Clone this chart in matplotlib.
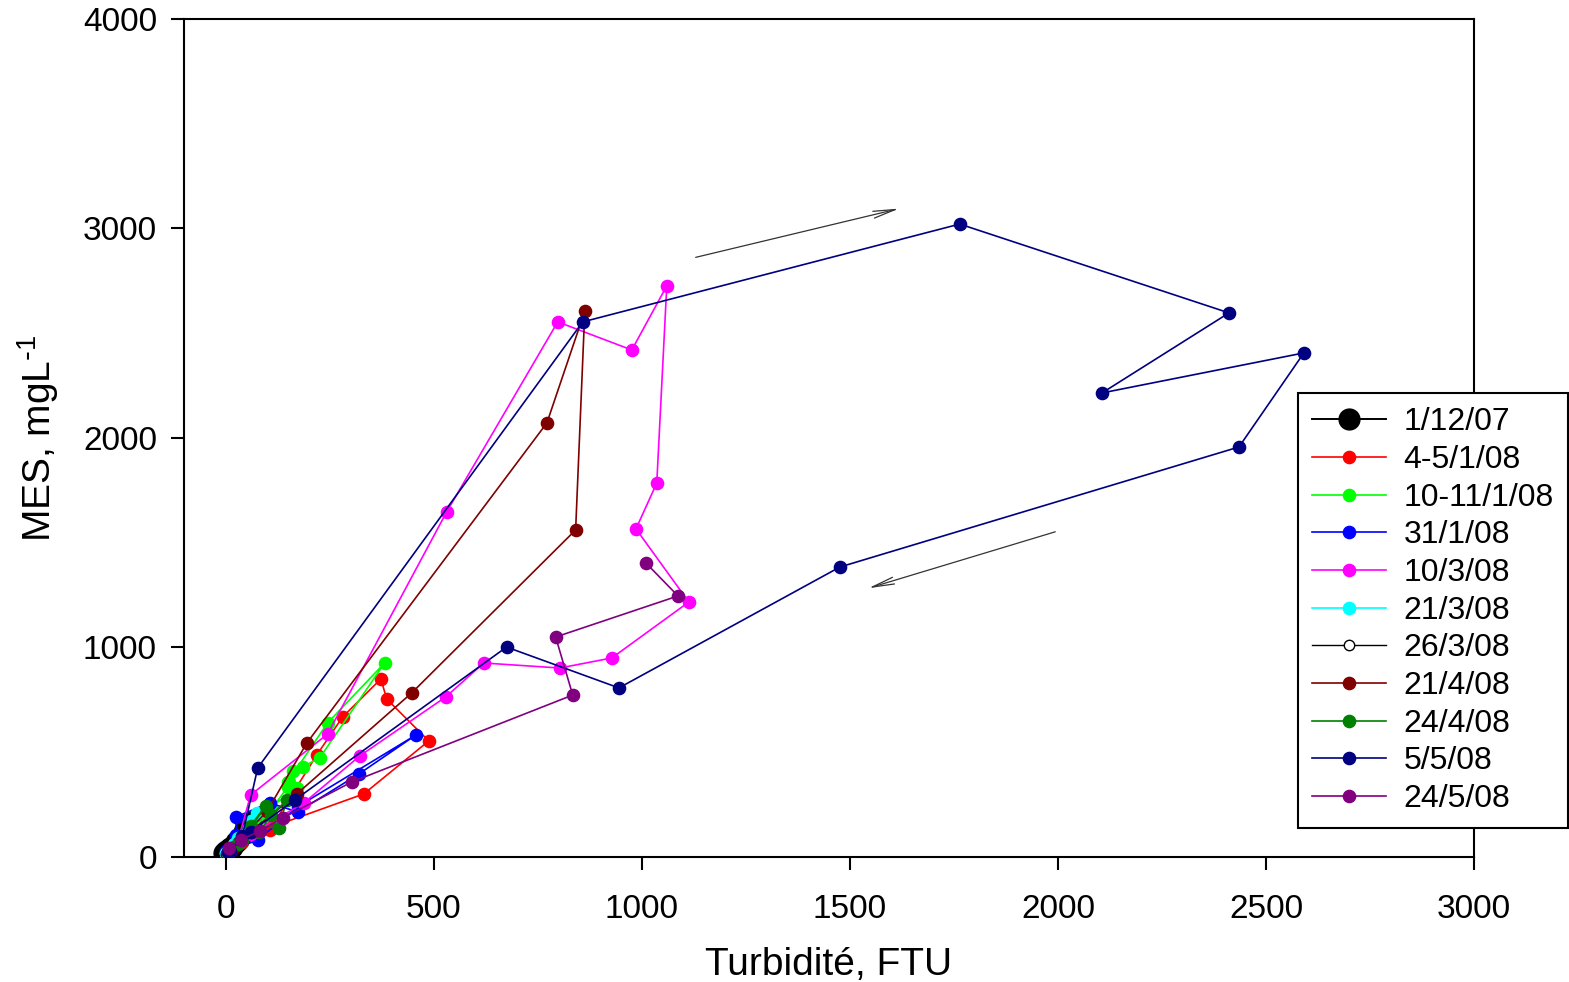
import matplotlib.pyplot as plt

plt.rcParams['font.family'] = ['Liberation Sans', 'DejaVu Sans']

labels = ["1/12/07", "4-5/1/08", "10-11/1/08", "31/1/08", "10/3/08", "21/3/08",
          "26/3/08", "21/4/08", "24/4/08", "5/5/08", "24/5/08"]
colors = ["black", "#ff0000", "#00ff00", "#0000ff", "#ff00ff", "#00ffff",
          "black", "#800000", "#008000", "#000080", "#800080"]

# turbidity (FTU) and MES (mg/L)
x_1207 = [-5, 2, 10, 25, 45, 60, 50, 30, 15, 3]
y_1207 = [20, 30, 45, 70, 120, 165, 140, 80, 50, 25]
x_0401 = [0, 30, 106, 219, 281, 373, 387, 488, 332, 106, 40, 5]
y_0401 = [20, 60, 129, 487, 668, 850, 754, 554, 301, 140, 70, 25]
x_1001 = [2, 50, 100, 149, 149, 245, 382, 226, 185, 161, 171, 110, 40, 5]
y_1001 = [20, 110, 200, 334, 358, 640, 926, 473, 430, 410, 329, 240, 90, 25]
x_3101 = [0, 26, 24, 106, 173, 320, 457, 173, 77, 10]
y_3101 = [30, 105, 191, 258, 215, 396, 582, 240, 81, 30]
x_1003 = [0, 30, 60, 245, 531, 798, 976, 1060, 1036, 986, 1113, 928, 803, 620, 529, 322, 188, 60, 10]
y_1003 = [20, 80, 296, 587, 1647, 2554, 2420, 2726, 1785, 1566, 1217, 950, 902, 926, 764, 482, 258, 110, 30]
x_2103 = [0, 20, 55, 75, 60, 30, 8]
y_2103 = [20, 60, 140, 210, 170, 90, 30]
x_2603 = [2, 10, 25, 40, 30, 12]
y_2603 = [15, 30, 55, 90, 70, 35]
x_2104 = [5, 60, 171, 447, 841, 863, 772, 195, 100, 20]
y_2104 = [25, 120, 301, 783, 1561, 2606, 2072, 544, 220, 50]
x_2404 = [5, 40, 96, 60, 127, 147, 110, 80, 30, 5]
y_2404 = [20, 80, 243, 150, 138, 272, 200, 120, 60, 25]
x_0505 = [5, 40, 77, 858, 1764, 2411, 2106, 2591, 2435, 1476, 945, 675, 166, 60, 10]
y_0505 = [25, 100, 425, 2554, 3021, 2597, 2215, 2406, 1957, 1384, 807, 1002, 272, 120, 30]
x_2405 = [1010, 1087, 793, 834, 303, 137, 82, 36, 7]
y_2405 = [1403, 1246, 1050, 773, 358, 186, 124, 81, 43]

series = [(x_1207, y_1207), (x_0401, y_0401), (x_1001, y_1001), (x_3101, y_3101),
          (x_1003, y_1003), (x_2103, y_2103), (x_2603, y_2603), (x_2104, y_2104),
          (x_2404, y_2404), (x_0505, y_0505), (x_2405, y_2405)]

fig = plt.figure(figsize=(15.69, 9.82), dpi=100)
ax = fig.add_axes([0.1173, 0.1273, 0.8222, 0.8534])

for i, (xs, ys) in enumerate(series):
    if i == 0:
        ax.plot(xs, ys, "-o", color=colors[i], lw=1.4, ms=15, label=labels[i], zorder=2)
    elif i == 6:
        ax.plot(xs, ys, "-o", color=colors[i], lw=1.0, ms=7.5, mfc="white", mec="black",
                label=labels[i], zorder=3)
    else:
        ax.plot(xs, ys, "-o", color=colors[i], lw=1.2, ms=8.8, label=labels[i], zorder=3)

# hysteresis direction arrows
arrow = dict(arrowstyle="->,head_length=1.6,head_width=0.25", color="#333333", lw=0.9)
ax.annotate("", xy=(1625, 3098), xytext=(1123, 2859), arrowprops=arrow)
ax.annotate("", xy=(1538, 1279), xytext=(2000, 1556), arrowprops=arrow)

ax.set_xlim(-100, 3000)
ax.set_ylim(0, 4000)
ax.set_xticks([0, 500, 1000, 1500, 2000, 2500, 3000])
ax.set_yticks([0, 1000, 2000, 3000, 4000])
ax.tick_params(direction="out", length=9.5, width=1.5, labelsize=24)
ax.tick_params(axis="x", pad=17)
ax.tick_params(axis="y", pad=10)
for s in ax.spines.values():
    s.set_linewidth(1.5)

ax.set_xlabel("Turbidité, FTU", fontsize=28, labelpad=16)
ax.set_ylabel("MES, mgL$^{\\mathregular{\\text{-}1}}$", fontsize=28, labelpad=16)

leg = ax.legend(loc="upper left", bbox_to_anchor=(0.8273, 0.5998), bbox_transform=fig.transFigure,
                borderaxespad=0, fontsize=23, labelspacing=0.24, handlelength=2.3,
                handletextpad=0.55, fancybox=False, framealpha=1, edgecolor="black",
                borderpad=0.45)
leg.get_frame().set_linewidth(1.5)

fig.savefig("out.png", dpi=100)
